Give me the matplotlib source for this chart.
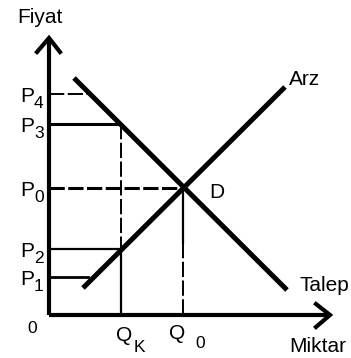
import matplotlib
matplotlib.use('Agg')
import matplotlib.pyplot as plt

# Arz / talep grafiği
plt.rcParams['font.family'] = ['Liberation Sans', 'DejaVu Sans']
plt.rcParams['lines.scale_dashes'] = False

# Veriler (eksen orijini = 0,0)
demand_q = [25, 238]
demand_p = [237, 25]
supply_q = [34, 236]
supply_p = [27, 228]

price_subs = ['4', '3', '0', '2', '1']
price_vals = [221, 191, 127, 66, 38]
qty_subs = ['K', '0']
qty_vals = [72, 134]

x_end = 281
y_end = 277

fig = plt.figure(figsize=(3.51, 3.58), dpi=100)
ax = fig.add_axes([0, 0, 1, 1])
ax.set_xlim(-49, 302)
ax.set_ylim(-43, 315)
ax.axis('off')

P4, P3, P0, P2, P1 = price_vals
QK, Q0 = qty_vals

# Eksenler ve oklar
ax.plot([0, 0], [0, y_end], color='black', lw=3, solid_capstyle='butt')
ax.plot([0, x_end], [0, 0], color='black', lw=3, solid_capstyle='butt')
ax.plot([-12, 0, 11], [y_end - 14, y_end, y_end - 14], color='black', lw=3,
        solid_joinstyle='miter')
ax.plot([x_end - 14, x_end, x_end - 14], [11, 0, -12], color='black', lw=3,
        solid_joinstyle='miter')

# Talep ve arz eğrileri
ax.plot(demand_q, demand_p, color='black', lw=3.6, solid_capstyle='butt')
ax.plot(supply_q, supply_p, color='black', lw=3.6, solid_capstyle='butt')

dash = (0, (11, 2.5))
# Yardımcı çizgiler
ax.plot([0, 41], [P4, P4], color='black', lw=1.4, linestyle=dash)
ax.plot([0, QK], [P3, P3], color='black', lw=2.2)
ax.plot([QK, QK], [P3, P2], color='black', lw=1.4, linestyle=dash)
ax.plot([QK, QK], [P2, 0], color='black', lw=1.6)
ax.plot([0, Q0], [P0, P0], color='black', lw=2.2, linestyle=dash)
ax.plot([0, QK], [P2, P2], color='black', lw=1.6)
ax.plot([0, 39], [P1, P1], color='black', lw=2.0)
ax.plot([Q0, Q0], [P0, 72], color='black', lw=1.6)
ax.plot([Q0, Q0], [72, 0], color='black', lw=1.4, linestyle=dash)

fs = 15
sfs = 12.5
# Fiyat etiketleri
for s, v in zip(price_subs, price_vals):
    ax.text(-29, v - 8, 'P', fontsize=fs, ha='left', va='baseline')
    ax.text(-15, v - 14, s, fontsize=sfs, ha='left', va='baseline')

ax.text(-22, -18, '0', fontsize=sfs, ha='left', va='baseline')

# Miktar etiketleri
ax.text(QK - 5, -26, 'Q', fontsize=fs, ha='left', va='baseline')
ax.text(QK + 13, -37, 'K', fontsize=sfs, ha='left', va='baseline')
ax.text(Q0 - 14, -24, 'Q', fontsize=fs, ha='left', va='baseline')
ax.text(Q0 + 12, -33, '0', fontsize=sfs, ha='left', va='baseline')

ax.text(-32, 292, 'Fiyat', fontsize=fs, ha='left', va='baseline')
ax.text(240, -37, 'Miktar', fontsize=fs, ha='left', va='baseline')
ax.text(240, 230, 'Arz', fontsize=fs, ha='left', va='baseline')
ax.text(250, 24, 'Talep', fontsize=fs, ha='left', va='baseline')
ax.text(160, 117, 'D', fontsize=fs, ha='left', va='baseline')

fig.savefig('out.png', dpi=100)
